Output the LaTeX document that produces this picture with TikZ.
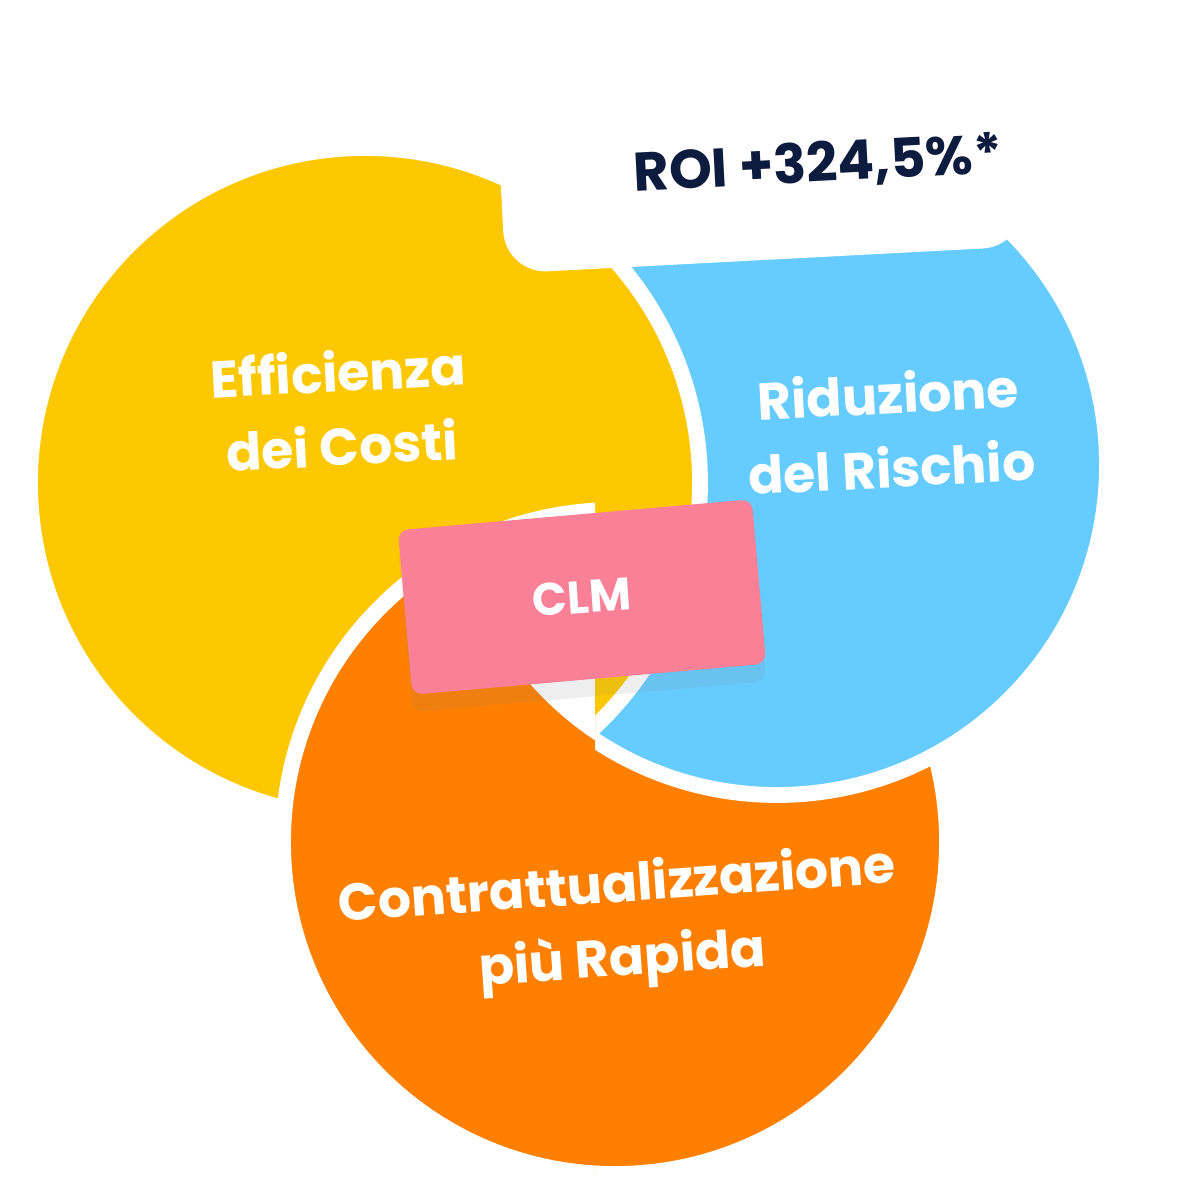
\documentclass[tikz,border=0pt]{standalone}
\usepackage{fontspec}
\setmainfont{Poppins}
\usetikzlibrary{shadows}
\definecolor{clmyellow}{HTML}{FDC800}
\definecolor{clmblue}{HTML}{66CCFF}
\definecolor{clmorange}{HTML}{FF8000}
\definecolor{clmpink}{HTML}{F98097}
\definecolor{clmnavy}{HTML}{0D1B3E}
\tikzset{
  disc/.style={draw=white, line width=4.5pt},
  label/.style={text=white, font=\bfseries\fontsize{14.8}{21}\selectfont, align=center},
}
\begin{document}
\begin{tikzpicture}[x=0.01cm, y=0.01cm]
		\useasboundingbox [fill=white] (0,0) rectangle (1200,1200);
		% circles
		\draw [disc, fill=clmorange] (615,358) circle (332);
		\draw [disc, fill=clmblue] (777,735) circle (330);
		\draw [disc, fill=clmyellow] (365,717) circle (335);
		\begin{scope}
		\clip (0,0) rectangle (595,1200);
		\draw [disc, fill=clmorange] (615,358) circle (332);
		% hole where blue and orange meet
		\clip (777,735) circle (330);
		\fill [white] (615,358) circle (332);
		\end{scope}
		
		% ROI card
		\node [fill=white, rounded corners=12pt, minimum width=5.2cm, minimum height=2cm, rotate=3] (card) at (760,1040) {};
		\node [text=clmnavy, font=\bfseries\fontsize{15.5}{18}\selectfont, rotate=3] (roi) at (818,1035) {ROI +324,5\%*};
		
		% texts
		\node [label, rotate=3] (costi) at (340,792) {Efficienza\\dei Costi};
		\node [label, rotate=3] (rischio) at (890,770) {Riduzione\\del Rischio};
		\node [label, rotate=4] (rapida) at (620,275) {Contrattualizzazione\\più Rapida};
		
		% CLM box
		\node [fill=clmpink, rounded corners=3pt, minimum width=3.55cm, minimum height=1.65cm, rotate=5,
		  drop shadow={opacity=0.12, shadow xshift=0pt, shadow yshift=-5pt}] (clmbox) at (582,603) {};
		\node [text=white, font=\bfseries\fontsize{13}{15}\selectfont, rotate=4] (clm) at (clmbox) {CLM};
		
		\end{tikzpicture}
\end{document}
